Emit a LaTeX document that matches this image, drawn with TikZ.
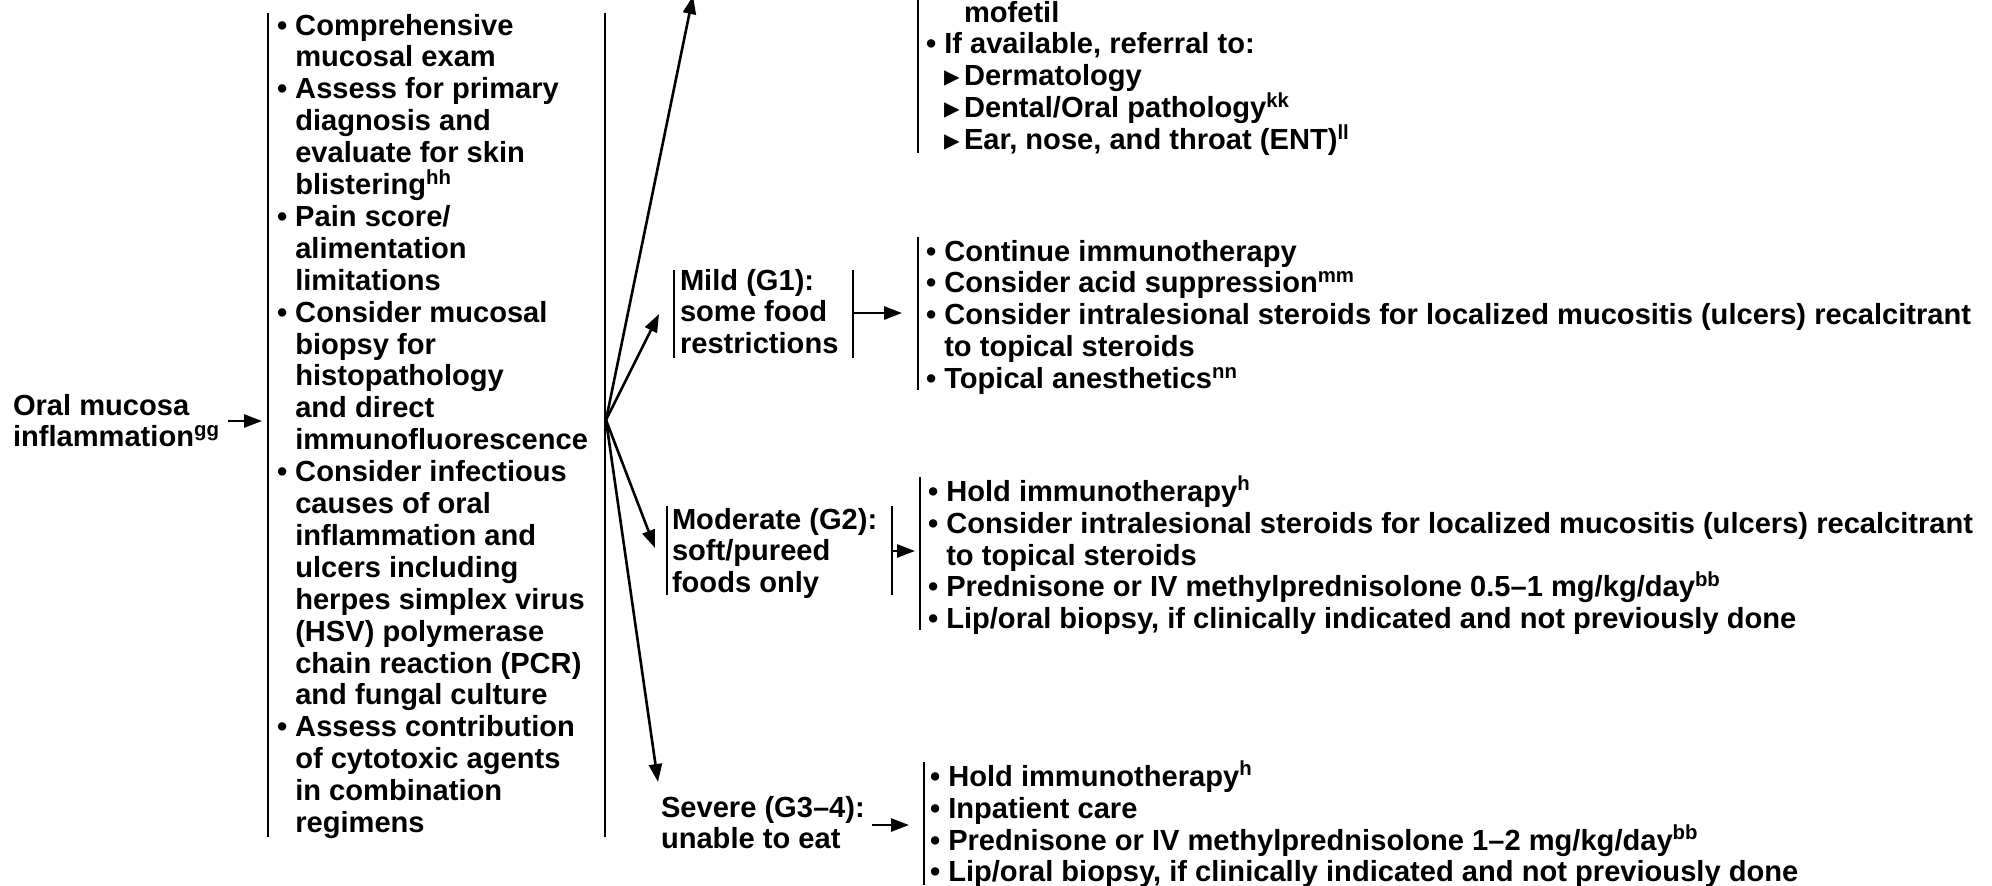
\documentclass[tikz,border=0pt]{standalone}
\usepackage{fontspec}
\setmainfont{Liberation Sans}
\newfontfamily\trifont{DejaVu Sans}
\usetikzlibrary{arrows.meta}

% body text: bold sans, tight leading
\newcommand\bodyfont{\fontsize{14.55pt}{15.95pt}\selectfont\bfseries\lineskiplimit=-100pt\relax}
% strut that fixes the height of a block's first line
\newcommand\fl{\rule{0pt}{11pt}}
% hanging indent equal to a bullet and its space
\newcommand\hang{\hphantom{• }}
% second-level item marker
\newcommand\subpt{\makebox[19pt][l]{\hspace{9pt}\raisebox{-0.3pt}{\trifont\fontsize{15.5pt}{15.5pt}\selectfont ▸}}}
\newcommand\fn[1]{\textsuperscript{#1}}

\begin{document}
\begin{tikzpicture}[x=0.5pt,y=-0.5pt,line width=1.3pt,
  blk/.style={anchor=north west,inner sep=0pt,outer sep=0pt,align=left,font=\bodyfont},
  arr/.style={-{Triangle[length=9pt,width=6.5pt]}}]
\useasboundingbox (0,0) rectangle (1992,885);

% ---- text blocks
\node[blk] (oral) at (13,393) {\fl Oral mucosa\\inflammation\fn{gg}};

\node[blk] (assess) at (277,13) {\fl • Comprehensive\\\hang mucosal exam\\
• Assess for primary\\\hang diagnosis and\\\hang evaluate for skin\\\hang blistering\fn{hh}\\
• Pain score/\\\hang alimentation\\\hang limitations\\
• Consider mucosal\\\hang biopsy for\\\hang histopathology\\\hang and direct\\\hang immunofluorescence\\
• Consider infectious\\\hang causes of oral\\\hang inflammation and\\\hang ulcers including\\\hang herpes simplex virus\\\hang (HSV) polymerase\\\hang chain reaction (PCR)\\\hang and fungal culture\\
• Assess contribution\\\hang of cytotoxic agents\\\hang in combination\\\hang regimens};

\node[blk] (topact) at (926,0) {\fl\hspace{19pt}mofetil\\
• If available, referral to:\\
\subpt Dermatology\\
\subpt Dental/Oral pathology\fn{kk}\\
\subpt Ear, nose, and throat (ENT)\fn{ll}};

\node[blk] (mild) at (680,268) {\fl Mild (G1):\\some food\\restrictions};
\node[blk] (mildact) at (926,239) {\fl • Continue immunotherapy\\
• Consider acid suppression\fn{mm}\\
• Consider intralesional steroids for localized mucositis (ulcers) recalcitrant\\
\hang to topical steroids\\
• Topical anesthetics\fn{nn}};

\node[blk] (mod) at (672,507) {\fl Moderate (G2):\\soft/pureed\\foods only};
\node[blk] (modact) at (928,476) {\fl • Hold immunotherapy\fn{h}\\
• Consider intralesional steroids for localized mucositis (ulcers) recalcitrant\\
\hang to topical steroids\\
• Prednisone or IV methylprednisolone 0.5–1 mg/kg/day\fn{bb}\\
• Lip/oral biopsy, if clinically indicated and not previously done};

\node[blk] (sev) at (661,795) {\fl Severe (G3–4):\\unable to eat};
\node[blk] (sevact) at (930,761) {\fl • Hold immunotherapy\fn{h}\\
• Inpatient care\\
• Prednisone or IV methylprednisolone 1–2 mg/kg/day\fn{bb}\\
• Lip/oral biopsy, if clinically indicated and not previously done};

% ---- bracket rules beside the blocks
\draw (268,12.7) -- (268,837);
\draw (605,12.7) -- (605,837);
\draw (918,0) -- (918,153);
\draw (674,270) -- (674,358);
\draw (853,270) -- (853,358);
\draw (918,237) -- (918,390);
\draw (667,506) -- (667,595);
\draw (892,506) -- (892,595);
\draw (920,477) -- (920,630);
\draw (924,762) -- (924,885);

% ---- connector end points
\coordinate (oralout) at (228,421);
\coordinate (assessin) at (262,421);
\coordinate (fan) at (606,420);
\coordinate (topin) at (693,-4);
\coordinate (mildin) at (659,314);
\coordinate (modin) at (655,548);
\coordinate (sevin) at (658,782);
\coordinate (mildout) at (853,313);
\coordinate (mildactin) at (902,313);
\coordinate (modout) at (892,551);
\coordinate (modactin) at (915,551);
\coordinate (sevout) at (872,825);
\coordinate (sevactin) at (909,825);

% ---- connectors
\draw[arr] (oralout) -- (assessin);
\draw[arr] (fan) -- (topin);
\draw[arr] (fan) -- (mildin);
\draw[arr] (fan) -- (modin);
\draw[arr] (fan) -- (sevin);
\draw[arr] (mildout) -- (mildactin);
\draw[arr] (modout) -- (modactin);
\draw[arr] (sevout) -- (sevactin);
\end{tikzpicture}
\end{document}
